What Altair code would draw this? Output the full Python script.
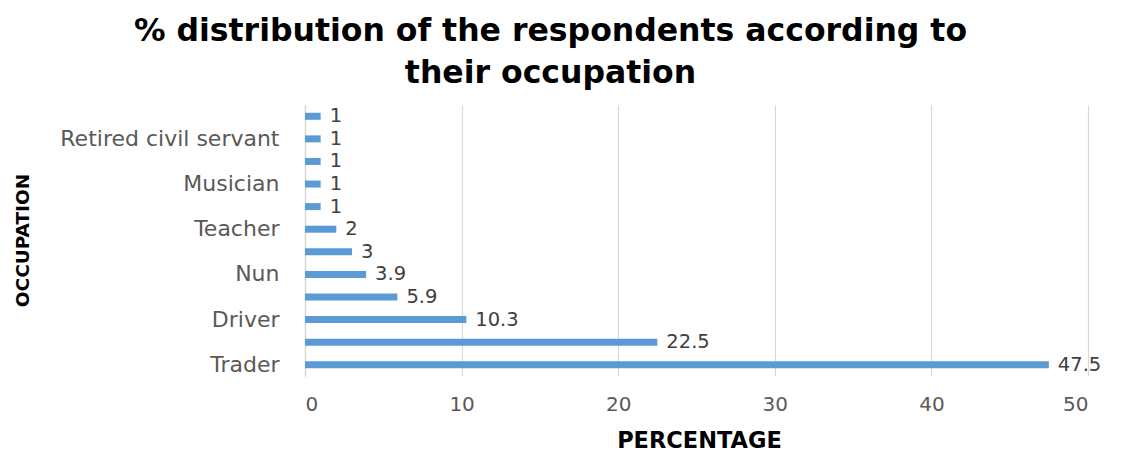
import altair as alt
import pandas as pd

# top-to-bottom order
labels = ["", "Retired civil servant", "", "Musician", "", "Teacher", "", "Nun", "", "Driver", "", "Trader"]
values = [1, 1, 1, 1, 1, 2, 3, 3.9, 5.9, 10.3, 22.5, 47.5]
value_text = ["1", "1", "1", "1", "1", "2", "3", "3.9", "5.9", "10.3", "22.5", "47.5"]
x_ticks = [0, 10, 20, 30, 40, 50]

df = pd.DataFrame({
    "idx": list(range(len(values))),
    "label": labels,
    "value": values,
    "txt": value_text,
})

label_js = "[" + ",".join("'" + l + "'" for l in labels) + "]"

FONT = "DejaVu Sans"

y_enc = alt.Y(
    "idx:O",
    sort="ascending",
    scale=alt.Scale(paddingInner=0.7, paddingOuter=0.35),
    axis=alt.Axis(
        title="OCCUPATION",
        labelExpr=label_js + "[datum.value]",
        labelFont=FONT, labelFontSize=22, labelColor="#595959", labelLimit=300,
        labelPadding=26, ticks=False,
        domain=True, domainColor="#d9d9d9", domainWidth=1.5,
        titleFont=FONT, titleFontSize=18.5, titleFontWeight="bold", titleColor="#000000",
        titleAngle=-90, titleX=-283, titleY=135, titleAlign="center", titleBaseline="middle",
    ),
)

x_enc = alt.X(
    "value:Q",
    scale=alt.Scale(domain=[0, 50], nice=False),
    axis=alt.Axis(
        title="PERCENTAGE",
        values=x_ticks,
        labelFont=FONT, labelFontSize=20, labelColor="#595959", labelPadding=18,
        ticks=False, domain=False,
        grid=True, gridColor="#d9d9d9", gridWidth=1.2,
        titleFont=FONT, titleFontSize=22.5, titleFontWeight="bold", titleColor="#000000",
        titleX=394, titleY=64, titleBaseline="middle",
    ),
)

bars = alt.Chart(df).mark_bar(color="#5B9BD5", size=7).encode(x=x_enc, y=y_enc)

texts = alt.Chart(df).mark_text(
    align="left", baseline="middle", dx=9, font=FONT, fontSize=19.5, color="#404040"
).encode(x="value:Q", y=alt.Y("idx:O", sort="ascending"), text="txt:N")

chart = (bars + texts).properties(
    width=783,
    height=271,
    autosize=alt.AutoSizeParams(type="none"),
    padding={"left": 305, "top": 105, "right": 33, "bottom": 77},
    title=alt.TitleParams(
        text=["% distribution of the respondents according to", "their occupation"],
        font=FONT, fontSize=31.5, fontWeight="bold", color="#000000",
        anchor="middle", dx=-146, offset=15, lineHeight=42,
    ),
).configure_view(stroke=None)

chart.save("out.html", embed_options={"renderer": "svg", "actions": False})
